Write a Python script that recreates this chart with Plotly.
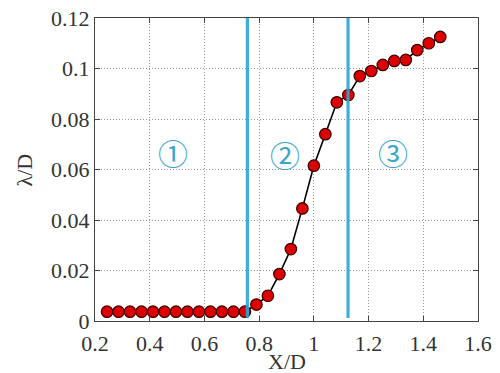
import plotly.graph_objects as go

# Normalised streamwise position and wavelength measurements
x_d = [0.244, 0.286, 0.328, 0.370, 0.412, 0.454, 0.496, 0.538, 0.580, 0.622,
       0.664, 0.706, 0.748, 0.790, 0.832, 0.874, 0.916, 0.958, 1.000, 1.042,
       1.084, 1.126, 1.168, 1.210, 1.252, 1.294, 1.336, 1.378, 1.420, 1.462]
lambda_d = [0.0037, 0.0037, 0.0037, 0.0037, 0.0037, 0.0037, 0.0037, 0.0037,
            0.0037, 0.0037, 0.0037, 0.0037, 0.0037, 0.0065, 0.0100, 0.0186,
            0.0285, 0.0446, 0.0615, 0.0740, 0.0866, 0.0895, 0.0970, 0.0990,
            0.1014, 0.1030, 0.1034, 0.1073, 0.1100, 0.1125]

# Boundaries between the three regimes
region_bounds = [0.757, 1.125]
region_labels = ["①", "②", "③"]
region_label_x = [0.486, 0.896, 1.290]
region_label_y = [0.067, 0.066, 0.067]

x_ticks = [0.2, 0.4, 0.6, 0.8, 1.0, 1.2, 1.4, 1.6]
x_tick_text = ["0.2", "0.4", "0.6", "0.8", "1", "1.2", "1.4", "1.6"]
y_ticks = [0, 0.02, 0.04, 0.06, 0.08, 0.1, 0.12]
y_tick_text = ["0", "0.02", "0.04", "0.06", "0.08", "0.1", "0.12"]

BLUE = "#2aa7d8"
FONT = "Liberation Serif"
TEXT = "#333"

fig = go.Figure()

fig.add_trace(go.Scatter(
    x=x_d, y=lambda_d, mode="lines+markers",
    line=dict(color="black", width=1.6),
    marker=dict(size=11.5, color="#dd0000", line=dict(color="#3a0000", width=1.2)),
    showlegend=False,
))

for xb in region_bounds:
    fig.add_shape(type="line", x0=xb, x1=xb, y0=0.0012, y1=0.12,
                  xref="x", yref="y", layer="above",
                  line=dict(color=BLUE, width=3.2), opacity=0.9)

for txt, lx, ly in zip(region_labels, region_label_x, region_label_y):
    fig.add_annotation(x=lx, y=ly, text=txt, showarrow=False,
                       font=dict(family="Noto Sans CJK JP", size=30, color="#3aa6cc"))

# Axis titles placed in paper coordinates
fig.add_annotation(x=0.5, y=-0.135, xref="paper", yref="paper", text="X/D",
                   showarrow=False, xanchor="center", yanchor="middle",
                   font=dict(family=FONT, size=22, color=TEXT))
fig.add_annotation(x=-0.183, y=0.5, xref="paper", yref="paper", text="λ/D",
                   showarrow=False, textangle=-90, xanchor="center", yanchor="middle",
                   font=dict(family=FONT, size=22, color=TEXT))

axis_common = dict(
    showline=True, linecolor="#444", linewidth=1.2, mirror="ticks",
    ticks="inside", ticklen=5, tickcolor="#444",
    showgrid=True, gridcolor="#999999", griddash="1px,2px", gridwidth=1,
    zeroline=False, automargin=False,
    tickfont=dict(family=FONT, size=22, color=TEXT),
)

fig.update_xaxes(range=[0.2, 1.6], tickvals=x_ticks, ticktext=x_tick_text,
                 ticklabelstandoff=2, **axis_common)
fig.update_yaxes(range=[0, 0.12], tickvals=y_ticks, ticktext=y_tick_text,
                 **axis_common)

fig.update_layout(
    width=500, height=373,
    margin=dict(l=95, r=22, t=18, b=52),
    plot_bgcolor="white", paper_bgcolor="white",
)

fig.write_html("out.html")
